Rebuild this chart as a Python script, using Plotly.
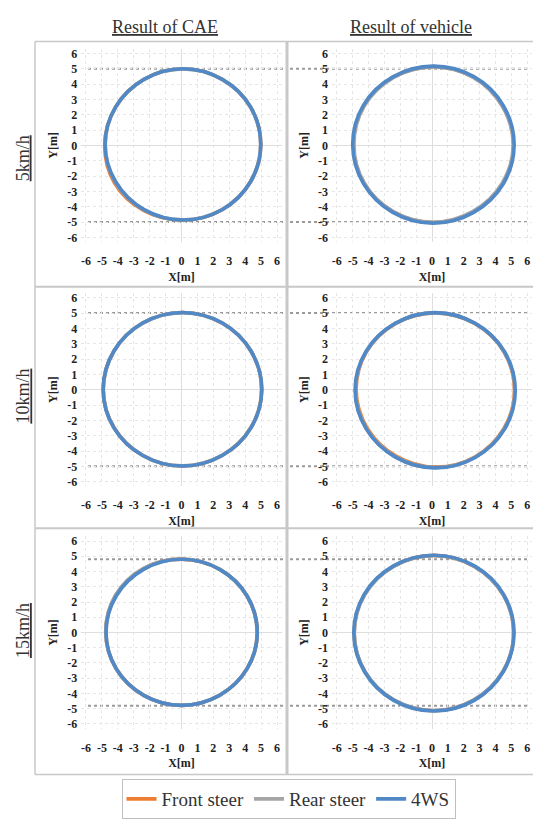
import math
import plotly.graph_objects as go

# ---------------- data ----------------
SERIES = ["Front steer", "Rear steer", "4WS"]
COLORS = ["#ED7D31", "#A5A5A5", "#5089C6"]
COLUMNS = ["Result of CAE", "Result of vehicle"]
ROWS = ["5km/h", "10km/h", "15km/h"]
TICK_VALS = [-6, -5, -4, -3, -2, -1, 0, 1, 2, 3, 4, 5, 6]
TICK_TEXT = ["-6", "-5", "-4", "-3", "-2", "-1", "0", "1", "2", "3", "4", "5", "6"]
REF_LINE = [5.0, 5.0, 4.8]          # dotted reference |Y| per row

# trajectory samples: angle (deg) -> radius [m] about a centre [m]
ANGLES_DEG = [0, 30, 60, 90, 120, 150, 180, 210, 240, 270, 300, 330]

CAE_5_CENTER = (0.10, 0.05)
CAE_5_FRONT = [4.88, 4.90, 4.92, 4.95, 4.92, 4.90, 4.92, 4.98, 4.96, 4.93, 4.90, 4.88]
CAE_5_REAR = [4.87, 4.89, 4.91, 4.94, 4.91, 4.89, 4.89, 4.91, 4.91, 4.91, 4.89, 4.87]
CAE_5_4WS = [4.88, 4.90, 4.92, 4.95, 4.92, 4.90, 4.90, 4.88, 4.90, 4.92, 4.90, 4.88]

VEH_5_CENTER = (0.08, 0.05)
VEH_5_FRONT = [5.06, 5.05, 5.08, 5.09, 5.07, 5.06, 5.04, 5.04, 5.06, 5.08, 5.06, 5.06]
VEH_5_REAR = [5.04, 5.02, 5.06, 5.07, 5.05, 5.03, 5.00, 5.02, 5.04, 5.06, 5.02, 5.02]
VEH_5_4WS = [5.10, 5.10, 5.12, 5.12, 5.10, 5.10, 5.08, 5.08, 5.10, 5.12, 5.10, 5.10]

CAE_10_CENTER = (0.06, 0.02)
CAE_10_FRONT = [4.98, 4.98, 5.00, 5.02, 5.00, 4.98, 4.98, 4.97, 4.98, 5.00, 4.98, 4.97]
CAE_10_REAR = [4.97, 4.98, 4.99, 5.01, 4.99, 4.97, 4.97, 4.97, 4.98, 4.99, 4.97, 4.97]
CAE_10_4WS = [4.98, 4.98, 5.00, 5.02, 5.00, 4.98, 4.98, 4.98, 4.98, 5.00, 4.98, 4.98]

VEH_10_CENTER = (0.20, -0.05)
VEH_10_FRONT = [5.00, 5.02, 5.03, 5.06, 5.03, 5.02, 4.98, 4.94, 4.94, 5.00, 5.01, 5.00]
VEH_10_REAR = [5.02, 5.03, 5.04, 5.07, 5.04, 5.03, 5.02, 5.00, 5.00, 5.03, 5.03, 5.02]
VEH_10_4WS = [5.05, 5.05, 5.05, 5.08, 5.05, 5.05, 5.05, 5.02, 5.02, 5.05, 5.05, 5.05]

CAE_15_CENTER = (0.01, 0.00)
CAE_15_FRONT = [4.75, 4.76, 4.78, 4.81, 4.82, 4.80, 4.76, 4.75, 4.76, 4.78, 4.76, 4.75]
CAE_15_REAR = [4.74, 4.75, 4.78, 4.82, 4.84, 4.82, 4.77, 4.75, 4.76, 4.78, 4.75, 4.74]
CAE_15_4WS = [4.75, 4.76, 4.78, 4.80, 4.78, 4.76, 4.75, 4.75, 4.76, 4.78, 4.76, 4.75]

VEH_15_CENTER = (0.12, -0.05)
VEH_15_FRONT = [5.03, 5.06, 5.08, 5.11, 5.08, 5.06, 5.03, 5.03, 5.06, 5.08, 5.06, 5.03]
VEH_15_REAR = [5.02, 5.04, 5.07, 5.10, 5.07, 5.04, 5.02, 5.02, 5.05, 5.07, 5.04, 5.02]
VEH_15_4WS = [5.05, 5.08, 5.10, 5.12, 5.10, 5.08, 5.05, 5.05, 5.08, 5.10, 5.08, 5.05]

PANELS = [
    [(CAE_5_CENTER, [CAE_5_FRONT, CAE_5_REAR, CAE_5_4WS]),
     (VEH_5_CENTER, [VEH_5_FRONT, VEH_5_REAR, VEH_5_4WS])],
    [(CAE_10_CENTER, [CAE_10_FRONT, CAE_10_REAR, CAE_10_4WS]),
     (VEH_10_CENTER, [VEH_10_FRONT, VEH_10_REAR, VEH_10_4WS])],
    [(CAE_15_CENTER, [CAE_15_FRONT, CAE_15_REAR, CAE_15_4WS]),
     (VEH_15_CENTER, [VEH_15_FRONT, VEH_15_REAR, VEH_15_4WS])],
]

# ---------------- layout constants ----------------
W, H = 533, 819
SERIF = "Liberation Serif"
COL_X_PX = [(81.2, 281.8), (332.1, 531.9)]
COL_XRANGE = [[-6.3, 6.3], [-6.3, 6.3]]
ROW_Y_PX = [(47.35, 242.65), (294.35, 489.65), (540.4, 734.6)]
YRANGE = [-6.3, 6.3]
DASH_X_PX = [(88, 285), (290, 530)]
ROW_LABEL_Y_PX = [158, 399, 636]
COL_LABEL_X_PX = [165, 411]


def px_x(p):
    return p / W


def px_y(p):
    return 1 - p / H


fig = go.Figure()
layout = dict(
    width=W, height=H, margin=dict(l=0, r=0, t=0, b=0),
    paper_bgcolor="white", plot_bgcolor="white",
    font=dict(family=SERIF, color="#222"),
    showlegend=True,
)
shapes = []
annotations = []

idx = 0
for r, row in enumerate(PANELS):
    for c, (center, radii_sets) in enumerate(row):
        idx += 1
        xa = "x" if idx == 1 else f"x{idx}"
        ya = "y" if idx == 1 else f"y{idx}"
        xkey = "xaxis" if idx == 1 else f"xaxis{idx}"
        ykey = "yaxis" if idx == 1 else f"yaxis{idx}"
        cx, cy = center
        for s, radii in enumerate(radii_sets):
            xs = [cx + rr * math.cos(math.radians(a)) for rr, a in zip(radii, ANGLES_DEG)]
            ys = [cy + rr * math.sin(math.radians(a)) for rr, a in zip(radii, ANGLES_DEG)]
            xs.append(xs[0])
            ys.append(ys[0])
            fig.add_trace(go.Scatter(
                x=xs, y=ys, mode="lines", name=SERIES[s],
                line=dict(color=COLORS[s], width=3.6, shape="spline", smoothing=1.0),
                xaxis=xa, yaxis=ya, legendgroup=SERIES[s],
                showlegend=(idx == 1), hoverinfo="skip",
            ))
        axis_common = dict(
            tickvals=TICK_VALS, ticktext=TICK_TEXT,
            tickfont=dict(family=SERIF, size=12, color="#222", weight="bold"),
            showgrid=True, gridcolor="#e6e6e6", griddash="dot", gridwidth=1,
            zeroline=True, zerolinecolor="#dedede", zerolinewidth=1,
            showline=False, ticks="", fixedrange=True,
        )
        layout[xkey] = dict(
            axis_common, domain=[px_x(COL_X_PX[c][0]), px_x(COL_X_PX[c][1])],
            range=COL_XRANGE[c], anchor=ya, ticklabelstandoff=10,
            title=dict(text="X[m]", font=dict(family=SERIF, size=12, color="#222", weight="bold"), standoff=5),
        )
        layout[ykey] = dict(
            axis_common, domain=[px_y(ROW_Y_PX[r][1]), px_y(ROW_Y_PX[r][0])],
            range=YRANGE, anchor=xa, ticklabelstandoff=3,
            title=dict(text="Y[m]", font=dict(family=SERIF, size=12, color="#222", weight="bold"), standoff=6),
        )
        # dotted reference lines
        for sign in (1, -1):
            yfrac = (sign * REF_LINE[r] - YRANGE[0]) / (YRANGE[1] - YRANGE[0])
            shapes.append(dict(
                type="line", xref="paper", yref=f"{ya} domain",
                x0=px_x(DASH_X_PX[c][0]), x1=px_x(DASH_X_PX[c][1]), y0=yfrac, y1=yfrac,
                line=dict(color="#9a9a9a", width=2, dash="dot"), layer="below",
            ))

# table borders
BORDER = "#c8c8c8"
for (x0, y0, x1, y1, w) in [
    (35, 40, 533, 40, 1.5),      # top
    (35, 40, 35, 781, 1.5),      # left
    (287, 40, 287, 781, 3),      # column divider
    (35, 288, 533, 288, 2),      # row dividers
    (35, 532, 533, 532, 2),
    (35, 781, 533, 781, 1.5),    # bottom
]:
    shapes.append(dict(type="line", xref="paper", yref="paper",
                       x0=px_x(x0), x1=px_x(x1), y0=px_y(y0), y1=px_y(y1),
                       line=dict(color=BORDER, width=w), layer="below"))

for c, label in enumerate(COLUMNS):
    annotations.append(dict(
        text=f"<u>{label}</u>", x=px_x(COL_LABEL_X_PX[c]), y=px_y(25),
        xref="paper", yref="paper", showarrow=False, xanchor="center", yanchor="middle",
        font=dict(family=SERIF, size=18, color="#333"),
    ))
for r, label in enumerate(ROWS):
    annotations.append(dict(
        text=f"<u>{label}</u>", x=px_x(23), y=px_y(ROW_LABEL_Y_PX[r]),
        xref="paper", yref="paper", showarrow=False, xanchor="center", yanchor="middle",
        textangle=-90, font=dict(family=SERIF, size=18, color="#333"),
    ))

layout["shapes"] = shapes
layout["annotations"] = annotations
layout["legend"] = dict(
    orientation="h", x=px_x(288.5), y=px_y(806), xanchor="center", yanchor="middle",
    bordercolor="#bfbfbf", borderwidth=1, bgcolor="white",
    font=dict(family=SERIF, size=19, color="#333"),
    itemclick=False, itemdoubleclick=False,
)
fig.update_layout(**layout)
fig.write_html(
    "out.html",
    config={"displayModeBar": False},
    post_script="document.body.style.margin='0';document.body.style.padding='0';",
)
